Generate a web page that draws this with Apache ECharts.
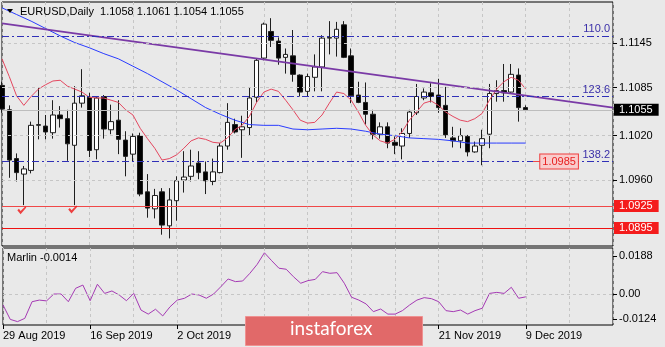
<!DOCTYPE html>
<html>
<head>
<meta charset="utf-8">
<script src="https://cdn.jsdelivr.net/npm/echarts@6/dist/echarts.min.js"></script>
<style>
  html, body { margin: 0; padding: 0; background: #e9e9e9; }
  #chart { width: 665px; height: 347px; }
</style>
</head>
<body>
<div id="chart"></div>
<script>
// EURUSD daily bars, 29 Aug 2019 .. 9 Dec 2019, followed by empty future slots
const dates = [
  '2019-08-29','2019-08-30',
  '2019-09-02','2019-09-03','2019-09-04','2019-09-05','2019-09-06','2019-09-09','2019-09-10','2019-09-11','2019-09-12','2019-09-13',
  '2019-09-16','2019-09-17','2019-09-18','2019-09-19','2019-09-20','2019-09-23','2019-09-24','2019-09-25','2019-09-26','2019-09-27','2019-09-30',
  '2019-10-01','2019-10-02','2019-10-03','2019-10-04','2019-10-07','2019-10-08','2019-10-09','2019-10-10','2019-10-11','2019-10-14','2019-10-15',
  '2019-10-16','2019-10-17','2019-10-18','2019-10-21','2019-10-22','2019-10-23','2019-10-24','2019-10-25','2019-10-28','2019-10-29','2019-10-30','2019-10-31',
  '2019-11-01','2019-11-04','2019-11-05','2019-11-06','2019-11-07','2019-11-08','2019-11-11','2019-11-12','2019-11-13','2019-11-14','2019-11-15',
  '2019-11-18','2019-11-19','2019-11-20','2019-11-21','2019-11-22','2019-11-25','2019-11-26','2019-11-27','2019-11-28','2019-11-29',
  '2019-12-02','2019-12-03','2019-12-04','2019-12-05','2019-12-06','2019-12-09',
  '2019-12-10','2019-12-11','2019-12-12','2019-12-13','2019-12-16','2019-12-17','2019-12-18','2019-12-19','2019-12-20','2019-12-23','2019-12-24','2019-12-25'
];

const opens = [1.1088,1.1055,1.0989,1.0968,1.0973,1.1034,1.1033,1.1024,1.1048,1.1043,1.1007,1.1064,
  1.1072,1.1001,1.1073,1.1028,1.1041,1.1014,1.0995,1.1020,1.0944,1.0921,1.0944,
  1.0898,1.0932,1.0960,1.0965,1.0983,1.0971,1.0958,1.0970,1.1006,1.1035,1.1028,
  1.1031,1.1072,1.1125,1.1161,1.1148,1.1126,1.1128,1.1102,1.1080,1.1099,1.1113,1.1152,
  1.1152,1.1170,1.1128,1.1075,1.1065,1.1049,1.1022,1.1032,1.1011,1.1006,1.1023,
  1.1051,1.1071,1.1078,1.1075,1.1061,1.1017,1.1013,1.1019,1.0998,1.1007,
  1.1022,1.1077,1.1081,1.1079,1.1102,1.1058];
const highs = [1.1093,1.1061,1.0996,1.0979,1.1039,1.1085,1.1048,1.1068,1.1060,1.1055,1.1087,1.1110,
  1.1078,1.1073,1.1075,1.1062,1.1068,1.1026,1.1023,1.1024,1.0968,1.0948,1.0949,
  1.0949,1.0965,1.0999,1.1001,1.0999,1.0985,1.0989,1.1010,1.1064,1.1043,1.1047,
  1.1085,1.1125,1.1173,1.1179,1.1153,1.1138,1.1163,1.1103,1.1104,1.1130,1.1156,1.1175,
  1.1174,1.1175,1.1138,1.1093,1.1092,1.1055,1.1038,1.1038,1.1019,1.1030,1.1055,
  1.1090,1.1084,1.1091,1.1097,1.1086,1.1032,1.1030,1.1021,1.1012,1.1028,
  1.1090,1.1095,1.1117,1.1117,1.1111,1.1061];
const lows = [1.1051,1.0963,1.0958,1.0926,1.0969,1.1015,1.1015,1.1016,1.1031,1.0986,1.0926,1.1058,
  1.0991,1.0988,1.1016,1.1022,1.0995,1.0965,1.0985,1.0938,1.0909,1.0908,1.0886,
  1.0881,1.0905,1.0943,1.0958,1.0961,1.0941,1.0953,1.0969,1.1001,1.1023,1.0990,
  1.1020,1.1065,1.1122,1.1140,1.1116,1.1104,1.1093,1.1073,1.1073,1.1080,1.1080,1.1130,
  1.1127,1.1125,1.1064,1.1064,1.1035,1.1015,1.1016,1.1003,1.0995,1.0988,1.1017,
  1.1048,1.1068,1.1065,1.1051,1.1017,1.1004,1.1003,1.0992,1.0997,1.0980,
  1.1003,1.1066,1.1066,1.1078,1.1039,1.1054];
const closes = [1.1056,1.0987,1.0970,1.0975,1.1034,1.1035,1.1025,1.1048,1.1043,1.1009,1.1064,1.1074,
  1.1000,1.1071,1.1029,1.1039,1.1015,1.0992,1.1019,1.0941,1.0922,1.0939,1.0899,
  1.0933,1.0959,1.0964,1.0979,1.0970,1.0959,1.0971,1.1006,1.1038,1.1025,1.1032,
  1.1071,1.1122,1.1171,1.1149,1.1125,1.1130,1.1103,1.1079,1.1100,1.1113,1.1152,1.1153,
  1.1164,1.1126,1.1074,1.1065,1.1049,1.1022,1.1032,1.1010,1.1007,1.1023,1.1052,
  1.1073,1.1079,1.1073,1.1058,1.1021,1.1013,1.1020,1.0998,1.1006,1.1016,
  1.1077,1.1081,1.1078,1.1103,1.1058,1.1055];

// slow moving average (blue), read every second bar
const maSlow = [1.1193,null,1.1184,null,1.1175,null,1.1165,null,1.1155,null,1.1146,null,
  1.1139,null,1.1131,null,1.1124,null,1.1114,null,1.1104,null,1.1093,
  null,1.1082,null,1.1070,null,1.1058,null,1.1049,null,1.1041,null,
  1.1035,null,1.1034,null,1.1034,null,1.1029,null,1.1028,null,1.1029,null,
  1.1030,null,1.1029,null,1.1026,null,1.1022,null,1.1020,null,1.1017,
  null,1.1016,null,1.1015,null,1.1013,null,1.1010,null,1.1010,
  null,1.1010,null,1.1010,null,1.1010];
// fast moving average (red)
const maFast = [1.1124,1.1100,1.1074,1.1061,1.1073,1.1083,1.1089,1.1094,1.1095,1.1087,1.1083,1.1079,
  1.1072,1.1071,1.1071,1.1068,1.1065,1.1055,1.1048,1.1030,1.1016,1.1003,1.0987,
  1.0989,1.0994,1.1003,1.1013,1.1017,1.1015,1.1011,1.1010,1.1017,1.1028,1.1034,
  1.1046,1.1065,1.1079,1.1083,1.1080,1.1068,1.1055,1.1041,1.1037,1.1038,1.1048,1.1064,
  1.1079,1.1077,1.1068,1.1052,1.1034,1.1021,1.1013,1.1010,1.1015,1.1025,1.1041,
  1.1052,1.1064,1.1067,1.1061,1.1052,1.1046,1.1041,1.1039,1.1043,1.1050,
  1.1068,1.1083,1.1093,1.1099,1.1095,1.1083];
// Marlin oscillator
const marlin = [-0.0054,-0.0125,-0.0136,-0.0120,-0.0038,-0.0030,-0.0034,0.0000,0.0000,-0.0038,0.0028,0.0044,
  -0.0033,0.0048,0.0003,0.0015,-0.0005,-0.0033,0.0003,-0.0079,-0.0099,-0.0075,-0.0108,
  -0.0063,-0.0030,-0.0021,0.0000,-0.0005,-0.0021,0.0000,0.0036,0.0074,0.0061,0.0064,
  0.0102,0.0146,0.0203,0.0164,0.0127,0.0122,0.0085,0.0053,0.0066,0.0072,0.0110,0.0102,
  0.0105,0.0053,-0.0016,-0.0030,-0.0049,-0.0087,-0.0074,-0.0099,-0.0099,-0.0082,-0.0054,
  -0.0030,-0.0018,-0.0023,-0.0038,-0.0082,-0.0087,-0.0079,-0.0099,-0.0082,-0.0070,
  0.0003,0.0008,0.0003,0.0033,-0.0021,-0.0014];

const priceTicks = [1.1145, 1.1085, 1.1020, 1.0960];
const marlinTicks = [0.0188, 0, -0.0124];
const supportLevels = [1.0925, 1.0895];
const fibLevels = [1.1155, 1.1073, 1.0985];
const fibNames = ['110.0', '123.6', '138.2'];
const fibTagPrice = 1.0985;
const trendLine = [[0, 1.1172], [84, 1.1058]];
const checkMarks = [[3, 1.0919], [10, 1.0920]];
const lastPrice = 1.1055;
const quote = ['1.1058', '1.1061', '1.1054', '1.1055'];
const marlinNow = '-0.0014';
const symbolName = 'EURUSD,Daily';

const barCount = closes.length;
const FONT = '"Liberation Sans", Arial, sans-serif';
const months = ['Jan','Feb','Mar','Apr','May','Jun','Jul','Aug','Sep','Oct','Nov','Dec'];
function fmtDate(s) {
  const p = s.split('-');
  return (+p[2]) + ' ' + months[+p[1] - 1] + ' ' + p[0];
}

const candles = closes.map((c, i) => [opens[i], c, lows[i], highs[i]]);
const gridDash = { color: '#c6c6c6', type: [3, 3], width: 1 };

const priceLines = [
  ...priceTicks.map(v => ({ yAxis: v, lineStyle: gridDash, label: { show: false } })),
  { yAxis: lastPrice, lineStyle: { color: '#bdbdbd', type: 'solid', width: 1 },
    label: { show: true, position: 'end', distance: 1, formatter: lastPrice.toFixed(4),
      backgroundColor: '#000', color: '#fff', padding: [1, 6, 0, 5], fontFamily: FONT, fontSize: 11 } },
  ...supportLevels.map((v, k) => ({ yAxis: v,
    lineStyle: { color: k === 0 ? '#f04848' : '#ee1111', type: 'solid', width: 1 },
    label: { show: true, position: 'end', distance: 1, formatter: v.toFixed(4),
      backgroundColor: '#f41c1c', color: '#fff', padding: [1, 6, 0, 5], fontFamily: FONT, fontSize: 11 } })),
  ...fibLevels.map((v, k) => ({ yAxis: v,
    lineStyle: { color: '#3030b8', type: [7, 3, 2, 3], width: 1 },
    label: { show: true, position: 'insideEndTop', distance: 1, formatter: fibNames[k],
      color: '#3a2fa8', fontFamily: FONT, fontSize: 11, padding: [0, 2, 0, 0] } })),
  [
    { coord: [73, fibTagPrice] },
    { coord: [74.4, fibTagPrice],
      lineStyle: { color: '#f04848', type: 'solid', width: 1 },
      label: { show: true, position: 'end', distance: 0, formatter: fibTagPrice.toFixed(4),
        backgroundColor: '#f9cccc', borderColor: '#f03c3c', borderWidth: 1,
        color: '#e82020', padding: [2, 2, 1, 2], fontFamily: FONT, fontSize: 11 } }
  ]
];

const chart = echarts.init(document.getElementById('chart'), null, { renderer: 'canvas' });
chart.setOption({
  animation: false,
  backgroundColor: '#e9e9e9',
  textStyle: { fontFamily: FONT },
  grid: [
    { left: 2, right: 52, top: 2, height: 244, show: true, borderColor: '#000', borderWidth: 1, backgroundColor: 'transparent' },
    { left: 2, right: 52, top: 248, height: 77, show: true, borderColor: '#000', borderWidth: 1, backgroundColor: 'transparent' }
  ],
  xAxis: [
    { type: 'category', gridIndex: 0, data: dates, boundaryGap: false,
      axisLine: { show: false, onZero: false }, axisTick: { show: false }, axisLabel: { show: false },
      splitLine: { show: true, interval: 5, lineStyle: gridDash } },
    { type: 'category', gridIndex: 1, data: dates, boundaryGap: false, position: 'bottom',
      axisLine: { show: false, onZero: false },
      axisTick: { show: true, interval: 11, length: 4, lineStyle: { color: '#000' } },
      axisLabel: { show: true, interval: 11, align: 'left', margin: 5, color: '#000', fontSize: 11,
        showMaxLabel: false,
        formatter: (v, i) => (i < barCount ? fmtDate(v) : '') },
      splitLine: { show: true, interval: 5, lineStyle: gridDash } }
  ],
  yAxis: [
    { type: 'value', gridIndex: 0, position: 'right', min: 1.08707, max: 1.12009, scale: true,
      axisLine: { show: false },
      axisTick: { show: true, length: 4, customValues: priceTicks, lineStyle: { color: '#000' } },
      axisLabel: { show: true, customValues: priceTicks, margin: 6, color: '#000', fontSize: 11,
        formatter: v => v.toFixed(4) },
      splitLine: { show: false } },
    { type: 'value', gridIndex: 1, position: 'right', min: -0.01527, max: 0.02266,
      axisLine: { show: false },
      axisTick: { show: true, length: 4, customValues: marlinTicks, lineStyle: { color: '#000' } },
      axisLabel: { show: true, customValues: marlinTicks, margin: 6, color: '#000', fontSize: 11,
        formatter: v => (v === 0 ? '0.00' : v.toFixed(4)) },
      splitLine: { show: false } }
  ],
  series: [
    { name: 'levels', type: 'line', xAxisIndex: 0, yAxisIndex: 0, data: [], z: 1, silent: true,
      markLine: { symbol: ['none', 'none'], silent: true, animation: false, precision: 5, data: priceLines } },
    { name: symbolName, type: 'candlestick', xAxisIndex: 0, yAxisIndex: 0, data: candles,
      barWidth: 5, clip: true, z: 2,
      itemStyle: { color: '#ffffff', color0: '#000000', borderColor: '#1e1e1e', borderColor0: '#1e1e1e', borderWidth: 1 } },
    { name: 'MA slow', type: 'line', xAxisIndex: 0, yAxisIndex: 0, data: maSlow, connectNulls: true,
      showSymbol: false, z: 3, lineStyle: { color: '#2a3cff', width: 1 } },
    { name: 'MA fast', type: 'line', xAxisIndex: 0, yAxisIndex: 0, data: maFast,
      showSymbol: false, z: 3, lineStyle: { color: '#e4475f', width: 1 } },
    { name: 'trend', type: 'line', xAxisIndex: 0, yAxisIndex: 0, data: trendLine,
      showSymbol: false, z: 4, lineStyle: { color: '#7a3aa6', width: 1.6 } },
    { name: 'marks', type: 'scatter', xAxisIndex: 0, yAxisIndex: 0, data: checkMarks, z: 5,
      symbol: 'path://M0,5 L2,3 L4,6 L10,0 L11,1.5 L4,10 Z', symbolSize: [9, 8], symbolOffset: [-2, 0],
      itemStyle: { color: '#ee1515' } },
    { name: 'Marlin', type: 'line', xAxisIndex: 1, yAxisIndex: 1, data: marlin,
      showSymbol: false, z: 3, lineStyle: { color: '#a53ab4', width: 1 },
      markLine: { symbol: ['none', 'none'], silent: true, animation: false, precision: 5,
        data: [{ yAxis: 0, lineStyle: gridDash, label: { show: false } }] } }
  ],
  graphic: {
    elements: [
      { type: 'polygon', shape: { points: [[7, 9], [13, 9], [10, 13]] }, style: { fill: '#000' }, z: 10 },
      { type: 'text', left: 20, top: 6, z: 10,
        style: { text: symbolName + '  ' + quote.join(' '), fill: '#000', font: '11px ' + FONT } },
      { type: 'text', left: 7, top: 252, z: 10,
        style: { text: 'Marlin ' + marlinNow, fill: '#000', font: '11px ' + FONT } },
      { type: 'rect', left: 245, top: 316, zlevel: 5, z: 100,
        shape: { x: 0, y: 0, width: 177, height: 29 },
        style: { fill: '#e16969', stroke: '#ef9191', lineWidth: 1 } },
      { type: 'text', left: 290, top: 319, zlevel: 5, z: 101,
        style: { text: 'instaforex', fill: '#ffffff', font: '19px Lato, sans-serif' } }
    ]
  }
});
</script>
</body>
</html>
